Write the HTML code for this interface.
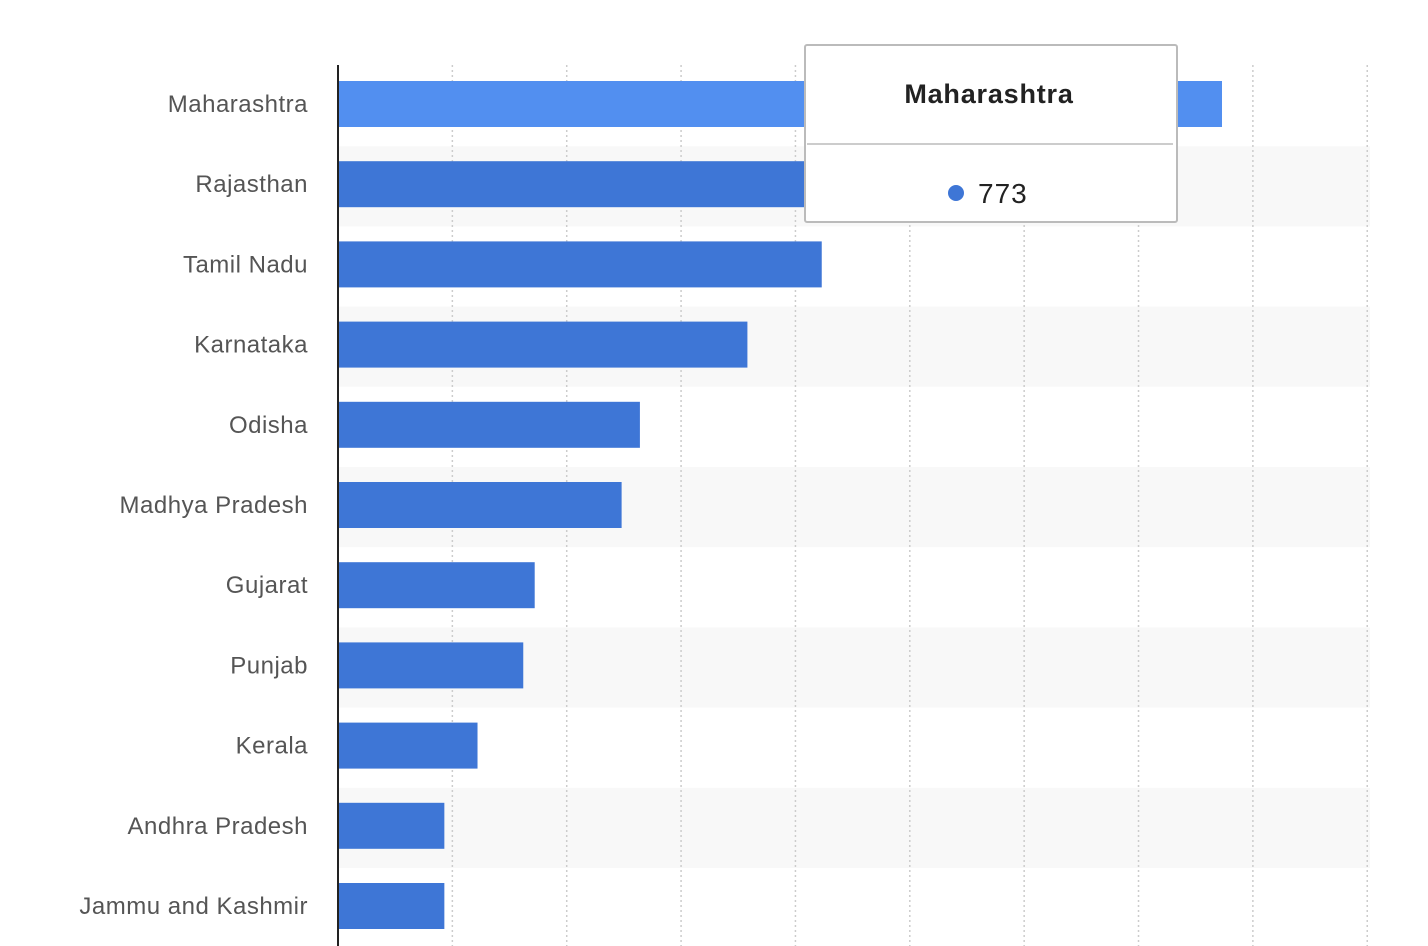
<!DOCTYPE html>
<html><head><meta charset="utf-8"><style>
html,body{margin:0;padding:0;background:#fff;}
svg{display:block;font-family:"Liberation Sans",sans-serif;}
</style></head><body>
<svg id="chart" width="1428" height="946"></svg>
<script>
const categories=["Maharashtra","Rajasthan","Tamil Nadu","Karnataka","Odisha","Madhya Pradesh","Gujarat","Punjab","Kerala","Andhra Pradesh","Jammu and Kashmir"];
const values=[773,520,423,358,264,248,172,162,122,93,93];
const gridTicks=[100,200,300,400,500,600,700,800,900];
const NS="http://www.w3.org/2000/svg";
const svg=document.getElementById("chart");
const x0=338,pxPer=1.1436,top0=66,band=80.2;
const xs=v=>x0+v*pxPer;
const yb=i=>top0+i*band;
function mk(t,a){const e=document.createElementNS(NS,t);for(const k in a)e.setAttribute(k,a[k]);svg.appendChild(e);return e;}
categories.forEach((c,i)=>{if(i%2===1){const r=mk("rect",{x:x0,y:yb(i),width:1370-x0,height:band,fill:"#f8f8f8"});

}});
gridTicks.forEach(t=>{const l=mk("line",{x1:xs(t),x2:xs(t),y1:65,y2:946,stroke:"#ccc","stroke-width":1.5,"stroke-dasharray":"2,3"});

});
categories.forEach((c,i)=>{
const r=mk("rect",{x:x0,y:yb(i)+15,width:values[i]*pxPer,height:46,fill:i===0?"#528ff0":"#3e76d6"});


const t=mk("text",{x:308,y:yb(i)+46,"text-anchor":"end","font-size":24,fill:"#555","letter-spacing":"0.5"});
t.textContent=c;


});
const ax=mk("line",{x1:x0,x2:x0,y1:65,y2:946,stroke:"#222","stroke-width":2});


const g=mk("g",{});


const tb=mk("rect",{x:805,y:45,width:372,height:177,fill:"#fff",stroke:"#bbb","stroke-width":2,rx:2});


const tt=mk("text",{x:989,y:103,"text-anchor":"middle","font-size":27,"font-weight":"bold",fill:"#222","letter-spacing":"0.8"});
tt.textContent=categories[0];


const sl=mk("line",{x1:807,x2:1173,y1:144,y2:144,stroke:"#ccc","stroke-width":2});


const dot=mk("circle",{cx:956,cy:193,r:8,fill:"#3e76d6"});


const tv=mk("text",{x:978,y:203,"font-size":28,fill:"#222","letter-spacing":"1"});
tv.textContent=values[0];


</script>
</body></html>
